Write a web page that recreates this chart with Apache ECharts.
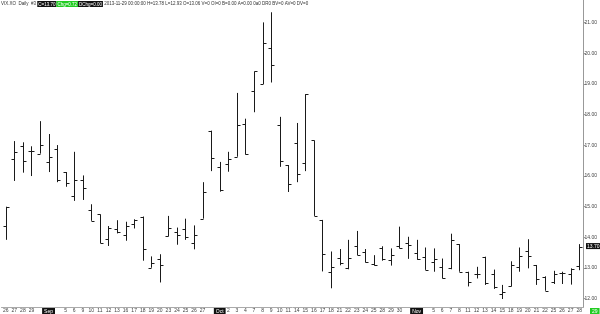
<!DOCTYPE html>
<html><head><meta charset="utf-8">
<script src="https://cdn.jsdelivr.net/npm/echarts@6/dist/echarts.min.js"></script>
<style>html,body{margin:0;padding:0;background:#fff}#c{width:600px;height:314px}</style>
</head><body><div id="c"></div>
<script>
const dates = ['2013-08-26','2013-08-27','2013-08-28','2013-08-29','2013-08-30',
'2013-09-03','2013-09-04','2013-09-05','2013-09-06','2013-09-09','2013-09-10','2013-09-11','2013-09-12','2013-09-13','2013-09-16','2013-09-17','2013-09-18','2013-09-19','2013-09-20','2013-09-23','2013-09-24','2013-09-25','2013-09-26','2013-09-27','2013-09-30',
'2013-10-01','2013-10-02','2013-10-03','2013-10-04','2013-10-07','2013-10-08','2013-10-09','2013-10-10','2013-10-11','2013-10-14','2013-10-15','2013-10-16','2013-10-17','2013-10-18','2013-10-21','2013-10-22','2013-10-23','2013-10-24','2013-10-25','2013-10-28','2013-10-29','2013-10-30','2013-10-31',
'2013-11-01','2013-11-04','2013-11-05','2013-11-06','2013-11-07','2013-11-08','2013-11-11','2013-11-12','2013-11-13','2013-11-14','2013-11-15','2013-11-18','2013-11-19','2013-11-20','2013-11-21','2013-11-22','2013-11-25','2013-11-26','2013-11-27','2013-11-28'];
const hiddenLabels = ['2013-08-30','2013-09-04','2013-09-30','2013-10-31','2013-11-04'];
const monthNames = {'09':'Sep','10':'Oct','11':'Nov'};
const opens  = [14.37,16.54,16.97,16.81,16.73,16.46,16.89,16.13,15.35,15.86,14.89,14.75,13.94,14.26,14.09,14.45,14.68,13.01,13.29,14.03,14.18,14.26,13.81,14.61,17.48,16.30,16.40,16.63,17.71,18.78,19.00,20.19,17.66,16.36,17.08,16.41,17.16,14.57,12.86,13.34,12.99,13.71,13.51,13.13,13.64,13.26,13.73,13.83,13.48,13.37,13.21,13.02,12.99,13.78,12.86,12.81,13.37,12.81,12.15,12.40,13.04,13.56,13.10,12.70,12.53,12.83,12.81,13.06];
const highs  = [15.00,17.14,17.10,16.97,17.79,17.37,17.01,16.13,16.79,16.02,15.08,14.75,14.37,14.56,14.51,14.59,14.68,13.38,13.45,14.70,14.32,14.61,14.39,15.80,17.48,16.46,16.79,18.71,17.87,19.41,21.01,21.34,17.93,16.36,17.73,18.67,17.16,14.57,13.54,13.62,13.92,14.21,13.62,13.42,13.71,13.64,14.35,14.02,13.92,13.67,13.64,13.31,14.12,13.78,12.88,13.04,13.37,12.95,12.45,13.22,13.67,13.94,13.10,12.73,12.91,12.88,12.99,13.78];
const lows   = [13.92,15.84,16.11,16.00,16.73,16.13,15.80,15.65,15.19,15.22,14.54,13.81,13.72,14.13,13.89,14.29,13.24,13.01,12.53,14.03,13.76,13.92,13.61,14.61,16.16,15.49,16.14,16.63,16.70,18.08,19.00,19.05,16.30,15.48,15.80,16.16,14.70,12.89,12.34,13.09,12.96,13.42,13.18,13.08,13.24,13.08,13.64,13.30,13.27,12.94,12.88,12.66,12.96,12.88,12.40,12.66,12.45,12.32,11.99,12.40,12.88,12.99,12.45,12.26,12.48,12.48,12.46,12.93];
const closes = [15.00,16.78,16.49,16.81,17.01,16.62,15.88,15.78,15.86,15.62,14.54,13.81,14.29,14.16,14.37,14.56,13.61,13.16,13.10,14.31,14.08,14.02,14.07,15.48,16.59,15.53,16.56,17.68,16.73,19.41,20.35,19.61,16.49,15.75,16.08,18.67,14.70,13.47,13.05,13.15,13.33,13.42,13.21,13.10,13.31,13.42,13.67,13.76,13.28,12.94,13.29,12.66,13.92,12.88,12.53,12.81,12.51,12.37,12.21,13.11,13.38,13.40,12.65,12.26,12.81,12.83,12.98,13.70];
const headerText = {
  name: 'VIX.XO  Daily  #3 ',
  close: 'C=13.70', chg: 'Chg=0.72', dchg: 'DChg=0.00',
  rest: ' 2013-11-29 00:00:00 H=13.78 L=12.93 O=13.06 V=0 OI=0 B=0.00 A=0.00 0a0 DR0 BV=0 AV=0 DV=0'
};
const lastDayLabel = '29';

const data = dates.map((d, i) => [i, opens[i], highs[i], lows[i], closes[i]]);
const chart = echarts.init(document.getElementById('c'), null, {renderer: 'canvas'});
const FONT = '"Liberation Sans Narrow","Liberation Sans",Arial,sans-serif';
const BAR = '#1a1a1a';
const HF = 4.5;

function renderItem(params, api) {
  const i = api.value(0);
  const pH = api.coord([i, api.value(2)]);
  const pL = api.coord([i, api.value(3)]);
  const pO = api.coord([i, api.value(1)]);
  const pC = api.coord([i, api.value(4)]);
  const x = Math.round(pH[0]) + 0.5;
  const st = {stroke: BAR, lineWidth: 1};
  return {type: 'group', children: [
    {type: 'line', shape: {x1: x, y1: pH[1], x2: x, y2: pL[1]}, style: st},
    {type: 'line', shape: {x1: x - 3, y1: Math.round(pO[1]) + 0.5, x2: x, y2: Math.round(pO[1]) + 0.5}, style: st},
    {type: 'line', shape: {x1: x, y1: Math.round(pC[1]) + 0.5, x2: x + 3, y2: Math.round(pC[1]) + 0.5}, style: st}
  ]};
}

chart.setOption({
  animation: false,
  backgroundColor: '#fff',
  title: {
    left: 1, top: 1, padding: 0,
    text: '{n|' + headerText.name + '}{b|' + headerText.close + '}{g|' + headerText.chg + '}{b|' + headerText.dchg + '}{n|' + headerText.rest + '}',
    textStyle: {
      fontSize: HF, fontFamily: FONT, fontWeight: 'normal', color: '#333',
      rich: {
        n: {fontSize: HF, fontFamily: FONT, color: '#333'},
        b: {fontSize: HF, fontFamily: FONT, color: '#fff', backgroundColor: '#111', padding: [1, 1, 0, 1]},
        g: {fontSize: HF, fontFamily: FONT, color: '#fff', backgroundColor: '#22cc22', padding: [1, 1, 0, 1]}
      }
    }
  },
  grid: {left: 0, right: 15, top: 0, bottom: 6, containLabel: false},
  xAxis: {
    type: 'category', data: dates, boundaryGap: true,
    axisLine: {lineStyle: {color: '#aaa', width: 1}},
    axisTick: {show: false},
    axisLabel: {
      interval: 0, fontSize: 5, margin: 1, color: '#444', fontFamily: FONT,
      formatter: function (v) {
        if (hiddenLabels.indexOf(v) >= 0) return '';
        const i = dates.indexOf(v);
        const m = v.slice(5, 7);
        if (i > 0 && dates[i - 1].slice(5, 7) !== m) return '{m|' + monthNames[m] + '}';
        return String(parseInt(v.slice(8), 10));
      },
      rich: {m: {fontSize: 5, color: '#fff', backgroundColor: '#111', padding: [1, 2, 0, 2], fontFamily: FONT}}
    },
    splitLine: {show: false}
  },
  yAxis: {
    type: 'value', position: 'right', min: 11.73, max: 21.74, minInterval: 1, maxInterval: 1,
    axisLine: {show: true, lineStyle: {color: '#999'}},
    axisTick: {show: true, length: 2, lineStyle: {color: '#999'}},
    axisLabel: {fontSize: 5, margin: 1, color: '#444', fontFamily: FONT, showMinLabel: false, showMaxLabel: false,
      formatter: v => v.toFixed(2)},
    splitLine: {show: false}
  },
  series: [{type: 'custom', renderItem: renderItem, data: data, encode: {x: 0, y: [1, 2, 3, 4]}, clip: false}]
});

const last = closes.length - 1;
const py = chart.convertToPixel({yAxisIndex: 0}, closes[last]);
chart.setOption({
  graphic: [
    {type: 'text', left: 586, top: py - 3.5, z: 100,
      style: {text: closes[last].toFixed(2), fontSize: 5, fontFamily: FONT, fill: '#fff', backgroundColor: '#111', padding: [1, 1, 0, 1]}},
    {type: 'text', left: 590, top: 308, z: 100,
      style: {text: lastDayLabel, fontSize: 5, fontFamily: FONT, fill: '#fff', backgroundColor: '#22cc22', padding: [1, 2, 0, 2]}}
  ]
});
</script></body></html>
